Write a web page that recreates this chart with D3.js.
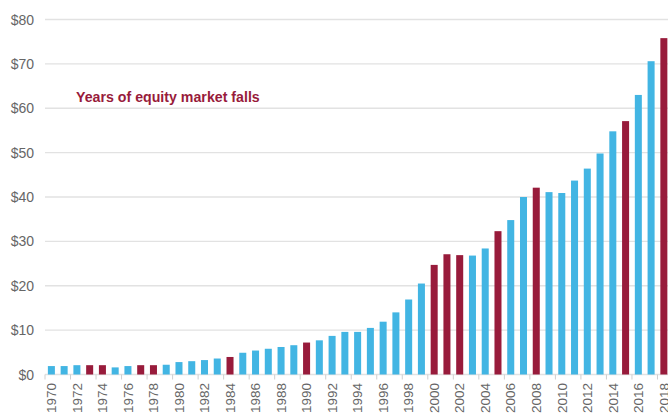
<!DOCTYPE html>
<html>
<head>
<meta charset="utf-8">
<script src="https://cdn.jsdelivr.net/npm/d3@7"></script>
<style>
  body { margin: 0; background: #fff; }
  svg { display: block; font-family: "Liberation Sans", Arial, sans-serif; }
</style>
</head>
<body>
<div id="chart"></div>
<script>
// Yearly values
const years = d3.range(1970, 2019);
const values = [
  1.9, 1.9, 2.1, 2.1, 2.1, 1.6, 1.9, 2.1, 2.1, 2.2,
  2.8, 3.0, 3.25, 3.6, 3.95, 4.9, 5.4, 5.8, 6.2, 6.6,
  7.2, 7.7, 8.7, 9.6, 9.6, 10.5, 11.9, 14.0, 16.9, 20.5,
  24.7, 27.1, 26.9, 26.8, 28.4, 32.3, 34.8, 40.0, 42.1, 41.1,
  40.9, 43.7, 46.4, 49.8, 54.8, 57.1, 63.0, 70.6, 75.8
];
// Years the equity market fell
const fallYears = [1973, 1974, 1977, 1978, 1984, 1990, 2000, 2001, 2002, 2005, 2008, 2015, 2018];
const yTicks = [0, 10, 20, 30, 40, 50, 60, 70, 80];
const noteText = 'Years of equity market falls';

const width = 668, height = 415;
const blue = '#42b5e3', red = '#981b3b';

const svg = d3.select('#chart').append('svg')
    .attr('width', width)
    .attr('height', height);

// band scale runs past the right edge, the last bar is cut off like in the original
const x = d3.scaleBand()
    .domain(years)
    .range([45, 45 + years.length * 12.76])
    .paddingInner(0.45)
    .paddingOuter(0.225);

const y = d3.scaleLinear()
    .domain([0, 80])
    .range([374.5, 19.5]);

// gridlines
svg.append('g')
    .selectAll('line')
    .data(yTicks)
    .enter()
    .append('line')
    .attr('x1', 45)
    .attr('x2', width)
    .attr('y1', d => y(d))
    .attr('y2', d => y(d))
    .style('stroke', '#e2e2e2')
    .style('stroke-width', 1.3);

// y labels
svg.append('g')
    .selectAll('text')
    .data(yTicks)
    .enter()
    .append('text')
    .attr('x', 34)
    .attr('y', d => y(d))
    .attr('dy', '0.36em')
    .attr('text-anchor', 'end')
    .style('font-size', '14px')
    .style('fill', '#666')
    .text(d => '$' + d);

// bars
svg.append('g')
    .selectAll('rect')
    .data(years)
    .enter()
    .append('rect')
    .attr('x', d => x(d))
    .attr('width', x.bandwidth())
    .attr('y', (d, i) => y(values[i]))
    .attr('height', (d, i) => y(0) - y(values[i]))
    .style('fill', d => fallYears.includes(d) ? red : blue);

// x ticks at the left edge of every even year's band
const gap = (x.step() - x.bandwidth()) / 2;
const evenYears = years.filter(d => d % 2 === 0);

svg.append('g')
    .selectAll('line')
    .data(evenYears)
    .enter()
    .append('line')
    .attr('x1', d => x(d) - gap)
    .attr('x2', d => x(d) - gap)
    .attr('y1', y(0))
    .attr('y2', y(0) + 5)
    .style('stroke', '#cfcfcf')
    .style('stroke-width', 1);

// x labels, rotated
svg.append('g')
    .selectAll('text')
    .data(evenYears)
    .enter()
    .append('text')
    .attr('transform', d => `translate(${x(d) + x.bandwidth() / 2}, 383) rotate(-90)`)
    .attr('dy', '0.35em')
    .attr('text-anchor', 'end')
    .style('font-size', '13.5px')
    .style('fill', '#666')
    .text(d => d);

// annotation
svg.append('text')
    .attr('x', 76)
    .attr('y', 102)
    .style('font-size', '14.2px')
    .style('font-weight', 'bold')
    .style('fill', red)
    .text(noteText);
</script>
</body>
</html>
